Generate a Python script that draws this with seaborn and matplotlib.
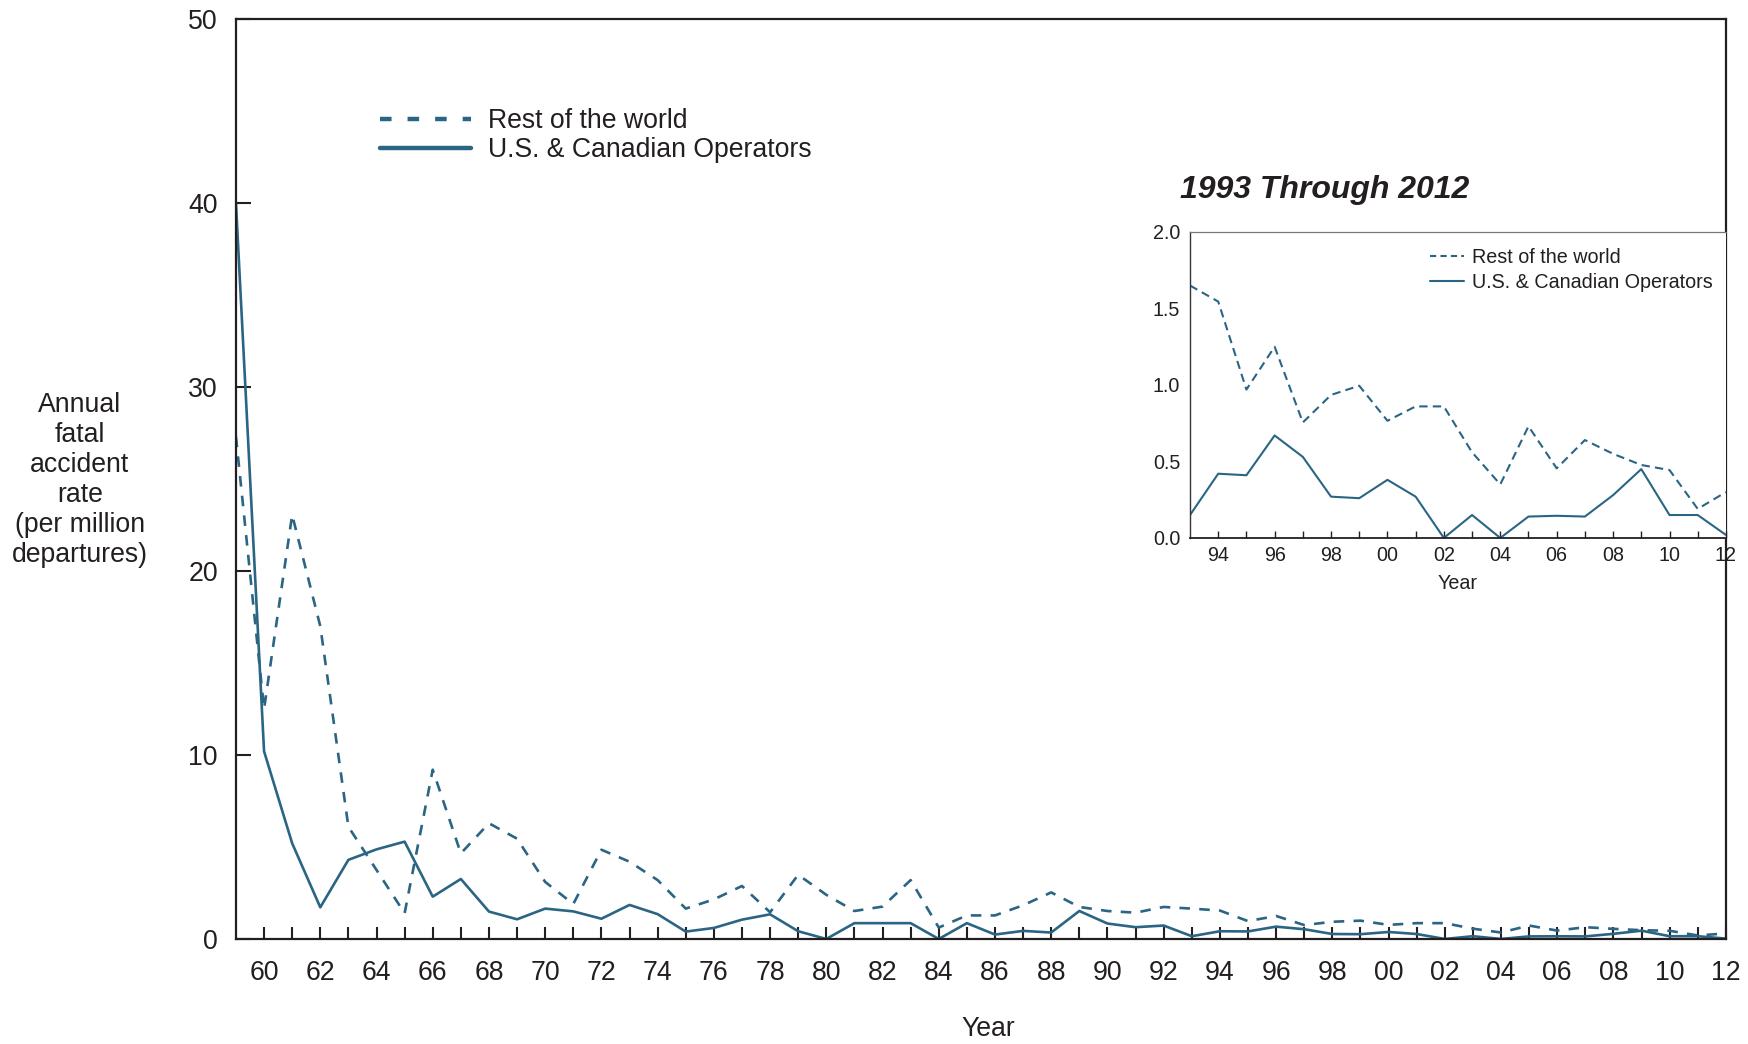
import numpy as np
import pandas as pd
import matplotlib
matplotlib.use("Agg")
import matplotlib.pyplot as plt
import seaborn as sns
from matplotlib.lines import Line2D

# annual fatal accident rate per million departures, 1959-2012
years = list(range(1959, 2013))
us_canada = [
    40.0, 10.2, 5.2, 1.72, 4.3, 4.87, 5.29, 2.3, 3.26, 1.49,
    1.07, 1.65, 1.5, 1.1, 1.85, 1.35, 0.4, 0.6, 1.05, 1.34,
    0.42, 0.0, 0.86, 0.86, 0.86, 0.0, 0.86, 0.24, 0.44, 0.35,
    1.52, 0.84, 0.64, 0.73,
    0.15, 0.42, 0.41, 0.67, 0.53, 0.27, 0.26, 0.38, 0.27, 0.0,
    0.15, 0.0, 0.14, 0.145, 0.14, 0.28, 0.45, 0.15, 0.15, 0.02,
]
rest_of_world = [
    27.3, 12.5, 23.05, 17.0, 6.1, 3.75, 1.4, 9.2, 4.65, 6.29,
    5.45, 3.1, 1.9, 4.85, 4.2, 3.2, 1.65, 2.15, 2.88, 1.45,
    3.49, 2.4, 1.52, 1.76, 3.2, 0.62, 1.28, 1.28, 1.83, 2.53,
    1.74, 1.52, 1.43, 1.74,
    1.65, 1.545, 0.97, 1.25, 0.755, 0.935, 0.995, 0.766, 0.86, 0.86,
    0.56, 0.35, 0.73, 0.455, 0.64, 0.55, 0.477, 0.444, 0.19, 0.3,
]
main_yticks = [0, 10, 20, 30, 40, 50]
inset_yticks = [0.0, 0.5, 1.0, 1.5, 2.0]
inset_start = 1993

LINE = "#2b6584"
TXT = "#231f20"
FS = 19.2
FS_IN = 14.2

sns.set_style("ticks")
plt.rcParams["font.family"] = ["Liberation Sans", "DejaVu Sans"]
plt.rcParams["text.color"] = TXT
plt.rcParams["axes.labelcolor"] = TXT
plt.rcParams["xtick.color"] = TXT
plt.rcParams["ytick.color"] = TXT

df = pd.DataFrame({"year": years, "us": us_canada, "rest": rest_of_world})
df_in = df[df["year"] >= inset_start]

fig = plt.figure(figsize=(17.49, 10.44), dpi=100)
ax = fig.add_axes([0.1349, 0.1006, 0.8519, 0.8812])

sns.lineplot(data=df, x="year", y="rest", ax=ax, color=LINE, lw=1.9,
             linestyle=(0, (4, 3.5)), legend=False)
sns.lineplot(data=df, x="year", y="us", ax=ax, color=LINE, lw=1.9,
             legend=False)

ax.set_xlim(1959, 2012)
ax.set_ylim(0, 50)
ax.set_yticks(main_yticks)
ax.set_yticklabels([str(v) for v in main_yticks])
ax.set_xticks(years[1:])
ax.set_xticklabels([f"{y % 100:02d}" if y % 2 == 0 else "" for y in years[1:]])
ax.tick_params(axis="x", direction="in", length=8.6, width=1.5,
               labelsize=FS, pad=15)
ax.tick_params(axis="y", direction="in", length=11, width=1.5,
               labelsize=FS, pad=13)
for s in ax.spines.values():
    s.set_linewidth(1.6)
    s.set_color("#231f20")
ax.set_ylabel("")
ax.set_xlabel("Year", fontsize=FS)
ax.xaxis.set_label_coords(0.505, -0.098)
ax.xaxis.label.set_va("center")

fig.text(80 / 1749, 1 - 480 / 1044,
         "Annual\nfatal\naccident\nrate\n(per million\ndepartures)",
         ha="center", va="center", multialignment="center",
         fontsize=FS, linespacing=1.2)

handles = [
    Line2D([], [], color=LINE, lw=3.2, linestyle=(0, (2.6, 3.6))),
    Line2D([], [], color=LINE, lw=3.2),
]
ax.legend(handles, ["Rest of the world", "U.S. & Canadian Operators"],
          loc="upper left", bbox_to_anchor=(0.097, 0.903), frameon=False,
          fontsize=FS, handlelength=3.4, handletextpad=0.62,
          labelspacing=0.12, borderpad=0, borderaxespad=0)

# inset 1993-2012
ax_in = fig.add_axes([0.6804, 0.4847, 0.3064, 0.2931])
ax_in.set_facecolor("white")
sns.lineplot(data=df_in, x="year", y="rest", ax=ax_in, color=LINE, lw=1.5,
             linestyle=(0, (4, 2.5)), legend=False)
sns.lineplot(data=df_in, x="year", y="us", ax=ax_in, color=LINE, lw=1.5,
             legend=False)
ax_in.set_xlim(1993, 2012)
ax_in.set_ylim(0, 2.0)
ax_in.set_yticks(inset_yticks)
ax_in.set_yticklabels([f"{v:.1f}" for v in inset_yticks])
in_years = list(range(1994, 2013))
ax_in.set_xticks(in_years)
ax_in.set_xticklabels([f"{y % 100:02d}" if y % 2 == 0 else "" for y in in_years])
ax_in.tick_params(axis="x", direction="in", length=5, width=1.0,
                  labelsize=FS_IN, pad=6)
ax_in.tick_params(axis="y", length=0, labelsize=FS_IN, pad=7)
ax_in.spines["right"].set_visible(False)
ax_in.spines["top"].set_color("#777777")
ax_in.spines["top"].set_linewidth(0.9)
ax_in.spines["left"].set_color("#333333")
ax_in.spines["left"].set_linewidth(1.0)
ax_in.spines["bottom"].set_color("#231f20")
ax_in.spines["bottom"].set_linewidth(1.3)
ax_in.set_ylabel("")
ax_in.set_xlabel("Year", fontsize=FS_IN)
ax_in.xaxis.set_label_coords(0.5, -0.15)
ax_in.xaxis.label.set_va("center")
ax_in.text(-0.019, 1.137, "1993 Through 2012", transform=ax_in.transAxes,
           ha="left", va="center", fontsize=23, fontweight="bold",
           style="italic")

in_handles = [
    Line2D([], [], color=LINE, lw=1.5, linestyle=(0, (3, 2))),
    Line2D([], [], color=LINE, lw=1.5),
]
ax_in.legend(in_handles, ["Rest of the world", "U.S. & Canadian Operators"],
             loc="upper left", bbox_to_anchor=(0.448, 0.947), frameon=False,
             fontsize=FS_IN, handlelength=1.7, handletextpad=0.4,
             labelspacing=0.28, borderpad=0, borderaxespad=0)

fig.savefig("out.png", dpi=100)
